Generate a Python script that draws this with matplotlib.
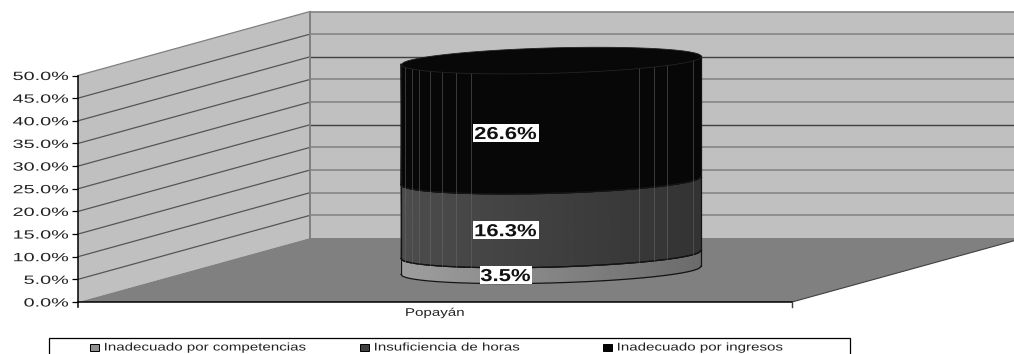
import matplotlib
matplotlib.use("Agg")
import matplotlib.pyplot as plt
import numpy as np
from matplotlib.patches import Polygon, Rectangle
from matplotlib.patheffects import AbstractPathEffect
from matplotlib.transforms import Affine2D

# Stacked values for the single category, bottom to top
city = "Popayán"
series_names = ["Inadecuado por competencias", "Insuficiencia de horas", "Inadecuado por ingresos"]
series_values = [3.5, 16.3, 26.6]
y_ticks = [0, 5, 10, 15, 20, 25, 30, 35, 40, 45, 50]

PX_PER_PCT = 4.53
Y_ZERO_PX = 302
FRONT_LEFT, FRONT_RIGHT = 78, 792
DEPTH_X, DEPTH_Y = 232, 64 / PX_PER_PCT

CYL_X, CYL_A = 551, 150
CYL_BASE, CYL_B, CYL_SHEAR = 7.0, 2.8, 0.9


class StretchX(AbstractPathEffect):
    """Widens glyphs horizontally about a fixed point of the text."""

    def __init__(self, factor, anchor=0.5):
        super().__init__()
        self.factor = factor
        self.anchor = anchor

    def draw_path(self, renderer, gc, tpath, affine, rgbFace=None):
        box = tpath.get_extents()
        x0 = box.x0 + self.anchor * box.width
        stretch = Affine2D().translate(-x0, 0).scale(self.factor, 1).translate(x0, 0)
        renderer.draw_path(gc, tpath, stretch + affine, rgbFace)


def ellipse_edge(level, xs, front=True):
    """Height of the cylinder's elliptical rim at the pixel columns xs."""
    u = np.clip((xs - CYL_X) / CYL_A, -1, 1)
    arc = np.sqrt(1 - u**2) * CYL_B
    return level + CYL_SHEAR * u + (-arc if front else arc)


def draw_segment(ax, level0, level1, shade_left, shade_right, z):
    xs = np.linspace(CYL_X - CYL_A, CYL_X + CYL_A, 200)
    low = ellipse_edge(level0, xs)
    high = ellipse_edge(level1, xs)
    shades = np.linspace(shade_left, shade_right, xs.size)
    ax.pcolormesh(np.vstack([xs, xs]), np.vstack([low, high]), np.vstack([shades, shades]),
                  shading="gouraud", cmap="gray", vmin=0, vmax=1, zorder=z)
    ax.plot(xs, low, color="#141414", lw=0.9, zorder=z + 0.1)
    ax.plot(xs, high, color="#141414", lw=0.9, zorder=z + 0.1)
    ax.plot([xs[0], xs[0]], [low[0], high[0]], color="#141414", lw=0.9, zorder=z + 0.1)
    ax.plot([xs[-1], xs[-1]], [low[-1], high[-1]], color="#141414", lw=0.9, zorder=z + 0.1)


fig = plt.figure(figsize=(10.14, 3.54), dpi=100)
ax = fig.add_axes([0, 0, 1, 1])
ax.set_xlim(0, 1014)
ax.set_ylim((Y_ZERO_PX - 354) / PX_PER_PCT, Y_ZERO_PX / PX_PER_PCT)
for name in ["top", "right", "bottom"]:
    ax.spines[name].set_visible(False)

# Walls and floor
back_x0 = FRONT_LEFT + DEPTH_X
ax.add_patch(Polygon([(FRONT_LEFT, 0), (back_x0, DEPTH_Y), (back_x0, 50 + DEPTH_Y), (FRONT_LEFT, 50)],
                     facecolor="#c0c0c0", edgecolor="none", zorder=1))
ax.add_patch(Rectangle((back_x0, DEPTH_Y), 1014 - back_x0, 50, facecolor="#c0c0c0", edgecolor="none", zorder=1))
ax.add_patch(Polygon([(FRONT_LEFT, 0), (FRONT_RIGHT, 0), (FRONT_RIGHT + DEPTH_X, DEPTH_Y), (back_x0, DEPTH_Y)],
                     facecolor="#808080", edgecolor="none", zorder=1))

# Gridlines on the side and back walls
for tick in y_ticks[1:]:
    ax.plot([FRONT_LEFT, back_x0], [tick, tick + DEPTH_Y],
            color="#555555" if tick < 50 else "#808080", lw=0.9, zorder=2)
    dark = tick in (25, 40)
    ax.plot([back_x0, 1014], [tick + DEPTH_Y, tick + DEPTH_Y],
            color="#404040" if dark else "#8a8a8a", lw=1.0 if dark else 1.3, zorder=2)
ax.plot([back_x0, back_x0], [DEPTH_Y, 50 + DEPTH_Y], color="#808080", lw=1.4, zorder=2)
ax.plot([FRONT_RIGHT, FRONT_RIGHT + DEPTH_X], [0, DEPTH_Y], color="#404040", lw=0.8, zorder=2)

# Axis lines and ticks
ax.spines["left"].set_position(("data", FRONT_LEFT))
ax.spines["left"].set_bounds(-1.2, 50)
ax.spines["left"].set_linewidth(1.1)
ax.spines["left"].set_zorder(3)
ax.plot([FRONT_LEFT, FRONT_RIGHT], [0, 0], color="black", lw=1.1, zorder=3)
ax.plot([FRONT_RIGHT, FRONT_RIGHT], [0, -1.2], color="#404040", lw=1.0, zorder=3)
ax.set_xticks([])
ax.set_yticks(y_ticks)
ax.set_yticklabels([f"{t:.1f}%" for t in y_ticks], fontfamily="Liberation Sans", fontsize=8.6, color="#222222")
ax.tick_params(axis="y", length=4.2, width=0.9, pad=2.8)
for label in ax.get_yticklabels():
    label.set_path_effects([StretchX(1.66, anchor=1.0)])

# Cylinder, drawn segment by segment
shades = [(0.62, 0.42), (0.30, 0.20), (0.03, 0.03)]
level = CYL_BASE
centres = []
for value, (left, right) in zip(series_values, shades):
    draw_segment(ax, level, level + value, left, right, 4)
    centres.append(level + value / 2 - CYL_B)
    level += value

# Top cap
cap_x = np.linspace(CYL_X - CYL_A, CYL_X + CYL_A, 200)
ax.fill_between(cap_x, ellipse_edge(level, cap_x), ellipse_edge(level, cap_x, front=False),
                color="#080808", edgecolor="#222222", lw=0.6, zorder=5)

# Faint vertical banding on the cylinder wall
stripe_x = [405, 412, 419, 430, 442, 456, 471, 639, 654, 667, 693]
for x in stripe_x:
    x_col = np.array([float(x)])
    top = ellipse_edge(level, x_col)[0]
    bottom = ellipse_edge(CYL_BASE + series_values[0], x_col)[0]
    ax.plot([x, x], [bottom, top], color="#6a6a6a", lw=0.6, alpha=0.6, zorder=4.5)

# Value labels on white boxes
for value, centre in zip(series_values, centres):
    width = 66 if value >= 10 else 52
    height = 18.5 / PX_PER_PCT
    ax.add_patch(Rectangle((505.5 - width / 2, centre - height / 2), width, height,
                           facecolor="white", edgecolor="none", zorder=6))
    ax.text(505.5, centre, f"{value}%", ha="center", va="center_baseline", fontfamily="Liberation Sans",
            fontsize=12.5, fontweight="bold", color="#111111", zorder=7, path_effects=[StretchX(1.27)])

ax.text((FRONT_LEFT + FRONT_RIGHT) / 2, -2.4, city, ha="center", va="center", fontfamily="Liberation Sans",
        fontsize=8, color="#222222", path_effects=[StretchX(1.36)])

# Legend box, running off the bottom edge
legend_y = (Y_ZERO_PX - 347.5) / PX_PER_PCT
ax.add_patch(Rectangle((48.5, (Y_ZERO_PX - 360) / PX_PER_PCT), 801.5, 22 / PX_PER_PCT,
                       facecolor="white", edgecolor="black", lw=0.9, zorder=6))
legend_colors = ["#909090", "#404040", "#050505"]
swatch_x = [90, 360, 603]
for name, color, x in zip(series_names, legend_colors, swatch_x):
    ax.add_patch(Rectangle((x, legend_y - 0.8), 9, 1.6, facecolor=color, edgecolor="black", lw=0.7, zorder=7))
    ax.text(x + 14, legend_y, name, ha="left", va="center", fontfamily="Liberation Sans", fontsize=8,
            color="#222222", zorder=7, path_effects=[StretchX(1.36, anchor=0.0)])

fig.savefig("out.png", dpi=100)
